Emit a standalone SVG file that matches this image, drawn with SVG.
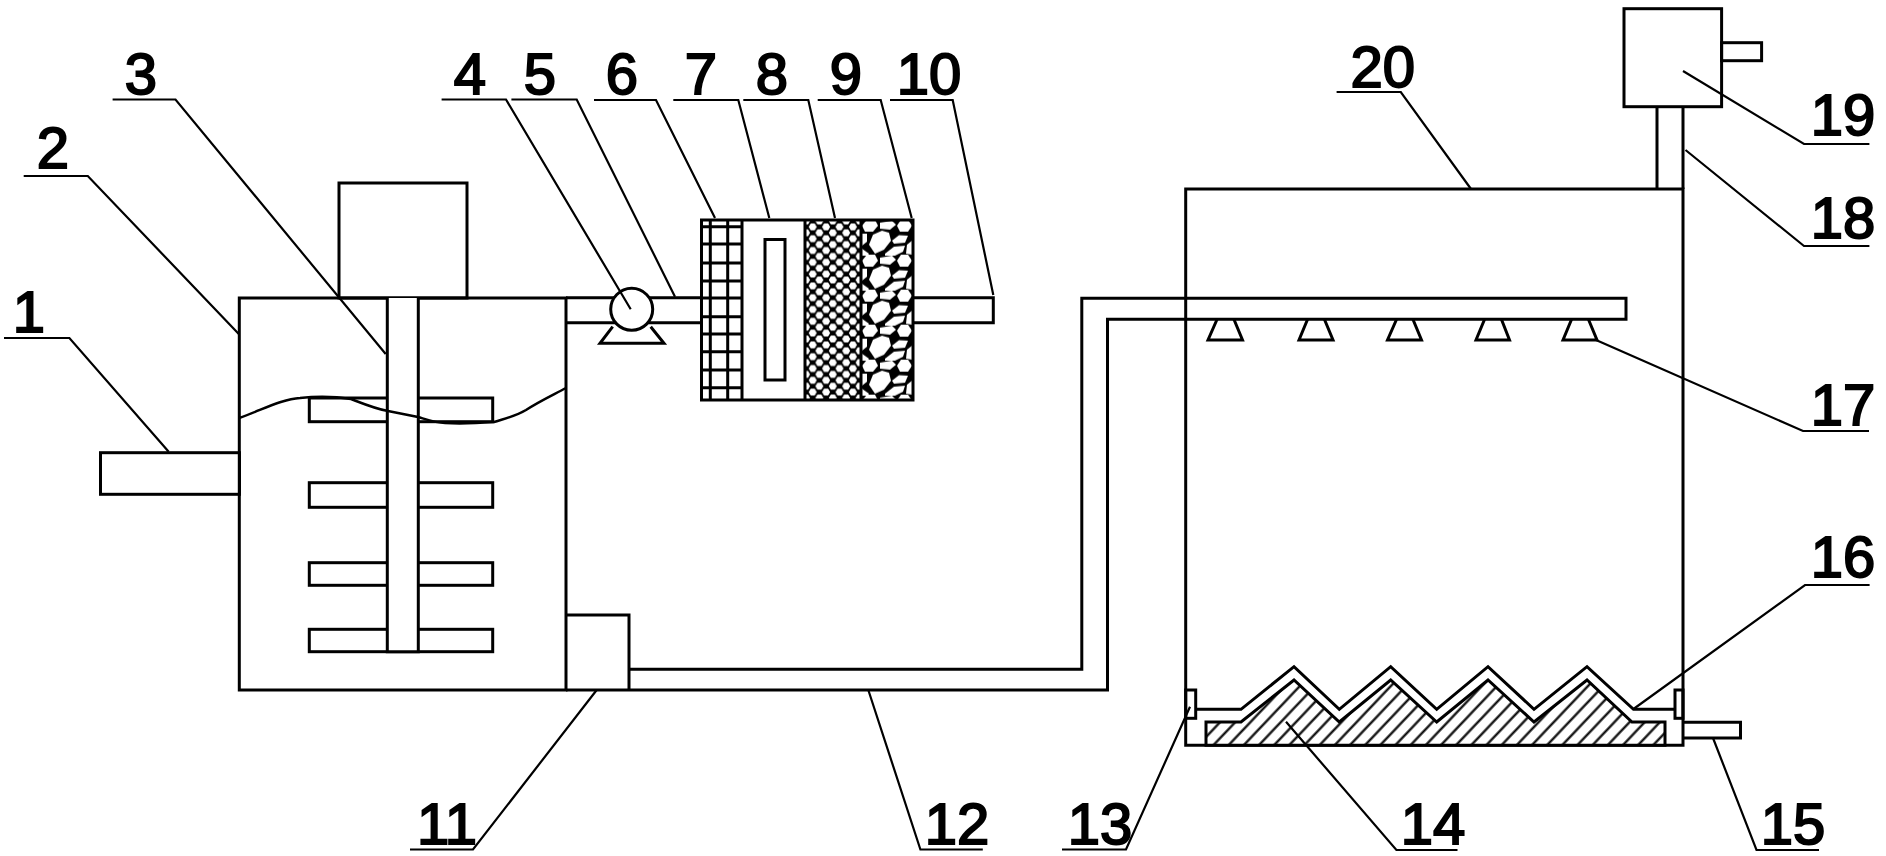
<svg xmlns="http://www.w3.org/2000/svg" width="1886" height="856" viewBox="0 0 1886 856">
<style>
.s{fill:none;stroke:#000;stroke-width:3}
.w{fill:#fff;stroke:#000;stroke-width:3}
.t{fill:none;stroke:#000;stroke-width:2.5}
.l{fill:none;stroke:#000;stroke-width:2.2}
text{font-family:"Liberation Sans",Arial,sans-serif;font-size:58px;fill:#000;stroke:#000;stroke-width:2;text-anchor:middle}
</style>
<defs>
<pattern id="hatch" width="11" height="11" patternUnits="userSpaceOnUse" patternTransform="translate(1206 745) rotate(-46.5)"><rect width="11" height="11" fill="#fff"/><line x1="0" y1="5.5" x2="11" y2="5.5" stroke="#000" stroke-width="2.2"/></pattern>
<pattern id="honey" x="806" y="221" width="13.4" height="11.8" patternUnits="userSpaceOnUse"><rect width="13.4" height="11.8" fill="#000"/><g fill="#fff"><polygon points="-4,0 -2,-3.4 2,-3.4 4,0 2,3.4 -2,3.4"/><polygon points="9.4,0 11.4,-3.4 15.4,-3.4 17.4,0 15.4,3.4 11.4,3.4"/><polygon points="-4,11.8 -2,8.4 2,8.4 4,11.8 2,15.2 -2,15.2"/><polygon points="9.4,11.8 11.4,8.4 15.4,8.4 17.4,11.8 15.4,15.2 11.4,15.2"/><polygon points="2.7,5.9 4.7,2.5 8.7,2.5 10.7,5.9 8.7,9.3 4.7,9.3"/></g></pattern>
<pattern id="gravel" x="861" y="220.7" width="52" height="35" patternUnits="userSpaceOnUse"><rect width="52" height="35" fill="#000"/><g fill="#fff"><polygon points="1,5 6,-1 14,-1 17,5 12,11 4,11"/><polygon points="1,40 6,34 14,34 17,40 12,46 4,46"/><polygon points="36,5 40,-1 47,-1 51,5 47,11 39,11"/><polygon points="36,40 40,34 47,34 51,40 47,46 39,46"/><polygon points="8,24 12,14 21,10 28,12 30,20 23,29 14,33"/><polygon points="24,33 33,26 44,25 42,31 32,36 24,36"/><polygon points="24,-2 32,-2 30,-1 24,-1"/><polygon points="31,20 38,14.5 47,15 44,22 33,23"/><polygon points="19,2 31,0 35,4 29,9 19,8"/><polygon points="46,24 51,20 51,34 45,33"/><polygon points="1,13 6,13 6,21 1,25"/><polygon points="1,28 8,33 6,36 1,36"/></g></pattern>
</defs>
<rect width="1886" height="856" fill="#fff"/>
<g id="inlet-1"><rect class="s" x="100.5" y="452.7" width="139" height="41.6"/></g>
<g id="motor"><rect class="s" x="339" y="183" width="128" height="115"/></g>
<g id="mixing-tank-2">
<rect class="s" x="239.3" y="298" width="326.7" height="392"/>
<rect class="w" x="309.3" y="398" width="183.4" height="23.7"/>
<rect class="w" x="309.3" y="482.7" width="183.4" height="24.6"/>
<rect class="w" x="309.3" y="562.7" width="183.4" height="22.6"/>
<rect class="w" x="309.3" y="629.3" width="183.4" height="22.4"/>
<path id="stirrer-3" d="M387.3 298V651.7H418.3V298" fill="#fff" stroke="#000" stroke-width="3"/>
<path class="t" d="M239 418C262 410 282 399 300 398C320 396 338 397 351 399C364 404 376 409 388 411C398 413 408 415 418 417C428 420 436 423 445 423C462 424 480 423 494 422C507 418 516 416 526 410C540 401 553 395 566 388"/>
</g>
<g id="pipe-5"><path class="s" d="M566 297.7H701M566 322.7H701"/></g>
<g id="pump-4"><path class="w" d="M612.7 326.7L600 343.3H664L650.7 326.7"/><circle class="w" cx="631.7" cy="309.3" r="21"/></g>
<g id="filter">
<rect id="filter-6" x="701" y="220" width="41" height="180" fill="#fff"/>
<rect id="filter-8" x="805" y="220" width="56" height="180" fill="url(#honey)"/>
<rect id="filter-9" x="861" y="220" width="52" height="180" fill="url(#gravel)"/>
<path class="s" d="M710.3 220V400M727.7 220V400M701 226.7H742M701 244H742M701 263H742M701 281H742M701 298H742M701 316.7H742M701 334H742M701 351.7H742M701 370H742M701 387.7H742"/>
<rect class="s" x="701.5" y="220" width="211.5" height="180" stroke-width="3.5"/>
<path class="s" d="M742 220V400M805 220V400M861 220V400"/>
<rect id="filter-7" class="s" x="765" y="239.5" width="20" height="140.5"/>
</g>
<g id="outlet-10"><path class="s" d="M913 297.7H993.3V322.7H913"/></g>
<g id="box-11"><path class="s" d="M566 615H629V690"/></g>
<g id="pipe-12"><path class="s" d="M566 690H1107.5V319.3H1626V298.3H1081.8V669.3H629"/></g>
<g id="tower-20"><path class="s" d="M1185.7 745.3V189H1683V745.3Z"/></g>
<g id="nozzles-17">
<path class="s" d="M1217 319.5L1208 340H1242.5L1234 319.5"/>
<path class="s" d="M1307.5 319.5L1299 340H1333L1324.5 319.5"/>
<path class="s" d="M1396.5 319.5L1387.5 340H1421.5L1413 319.5"/>
<path class="s" d="M1484.5 319.5L1476 340H1509.5L1501.5 319.5"/>
<path class="s" d="M1571.5 319.5L1563 340H1597L1588.5 319.5"/>
</g>
<g id="duct-18"><path class="s" d="M1657 106.5V189M1683 106.5V189"/></g>
<g id="fan-19"><rect class="s" x="1624" y="8.7" width="97.6" height="98"/><rect class="s" x="1721.6" y="42.7" width="40" height="18"/></g>
<g id="media-14"><path d="M1206 745.3V722H1241L1294 680L1339.3 722L1390.7 680L1436.7 722L1488 680L1534 722L1587 680L1632 722H1665V745.3Z" fill="url(#hatch)" stroke="#000" stroke-width="3"/></g>
<g id="tray-16"><path class="s" d="M1196 709.3H1241L1294 666.7L1339.3 709.3L1390.7 666.7L1436.7 709.3L1488 666.7L1534 709.3L1587 666.7L1633.5 709.3H1675"/></g>
<g id="bracket-13"><rect class="s" x="1185.7" y="690" width="10" height="28.3"/><rect class="s" x="1675" y="690" width="8" height="28.3"/></g>
<g id="drain-15"><path class="s" d="M1683 722.3H1740.5V738H1683"/></g>
<g id="connectors">
<polyline class="l" points="4,338 69.4,338 168.7,451.7"/>
<polyline class="l" points="23.7,176 87.8,176 238.8,334"/>
<polyline class="l" points="112.6,99.5 175.5,99.5 385.7,354"/>
<polyline class="l" points="441.6,99.5 506,99.5 630.7,309.3"/>
<polyline class="l" points="511.4,99.5 576.7,99.5 675,296.7"/>
<polyline class="l" points="594,100 656,100 715,218"/>
<polyline class="l" points="673.3,100 738.3,100 769.3,218"/>
<polyline class="l" points="743.3,100 808.3,100 835,218"/>
<polyline class="l" points="817.7,100 880.7,100 911.7,218"/>
<polyline class="l" points="890,100 952.7,100 993.3,295"/>
<polyline class="l" points="410,849.5 473,849.5 596.7,690"/>
<polyline class="l" points="868.3,690 920.4,849.5 982.8,849.5"/>
<polyline class="l" points="1062,849.5 1126,849.5 1190,706.7"/>
<polyline class="l" points="1286,721.7 1396.4,850 1457.5,850"/>
<polyline class="l" points="1713,738 1756.5,850 1819,850"/>
<polyline class="l" points="1633.5,709 1805,585 1869.6,585"/>
<polyline class="l" points="1596,340 1803,431 1869,431"/>
<polyline class="l" points="1685.5,150 1804,246 1869.4,246"/>
<polyline class="l" points="1683,71 1804,144 1869.4,144"/>
<polyline class="l" points="1336.6,92 1400.8,92 1471,189"/>
</g>
<g id="labels">
<text x="29" y="332">1</text><text x="53" y="168">2</text><text x="141" y="93.5">3</text><text x="470" y="93.5">4</text><text x="540" y="93.5">5</text><text x="622" y="93.5">6</text><text x="701" y="93.5">7</text><text x="772" y="93.5">8</text><text x="846" y="93.5">9</text><text x="929" y="93.5">10</text>
<text x="447" y="844">11</text><text x="957" y="844">12</text><text x="1100" y="844">13</text><text x="1433" y="844">14</text><text x="1793" y="844">15</text><text x="1843" y="577">16</text><text x="1843" y="425">17</text><text x="1843" y="238">18</text><text x="1843" y="135">19</text><text x="1382.7" y="87">20</text>
</g>
</svg>
